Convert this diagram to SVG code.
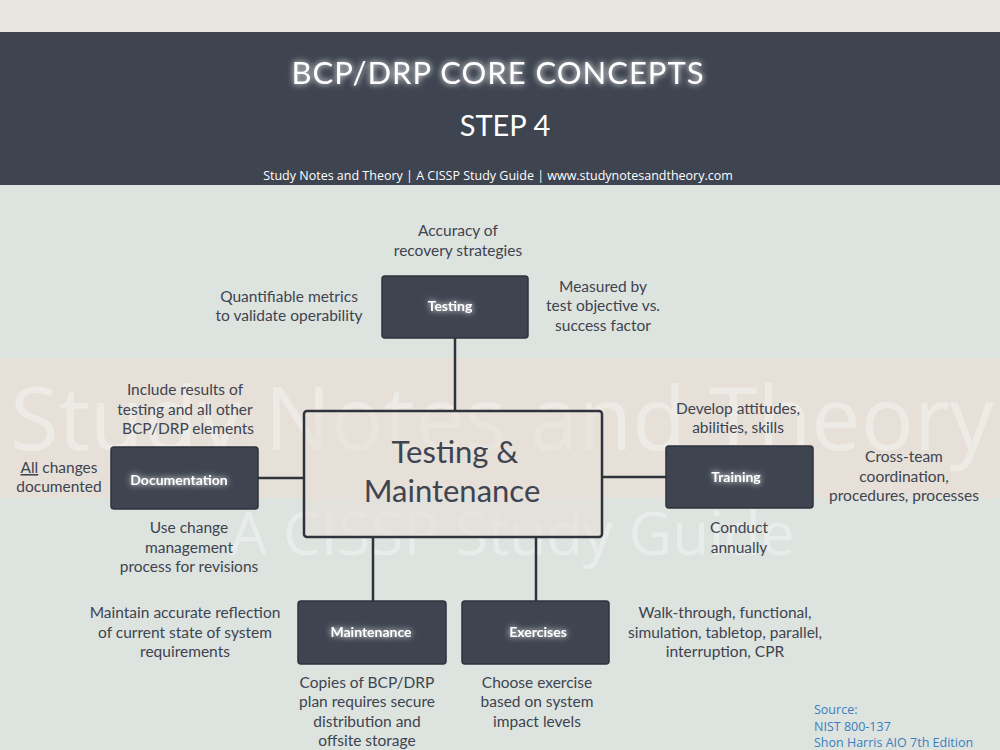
<svg xmlns="http://www.w3.org/2000/svg" width="1000" height="750" viewBox="0 0 1000 750">
<defs>
<style>
.t{font-family:"Lato","Liberation Sans",sans-serif;fill:#3e4450;font-size:15.5px;text-anchor:middle}
.big{font-size:31px}
.box{fill:#3e4450;stroke:#2e333c;stroke-width:1.5}
.bl{font-family:"Lato","Liberation Sans",sans-serif;fill:#fff;font-size:14px;font-weight:bold;text-anchor:middle}
.c{stroke:#2e333c;stroke-width:2.5;fill:none}
.wm{font-family:"Open Sans","Liberation Sans",sans-serif;fill:#ffffff;opacity:0.35;text-anchor:middle}
</style>
<filter id="glow" x="-20%" y="-50%" width="140%" height="200%"><feGaussianBlur stdDeviation="3" result="b"/><feMerge><feMergeNode in="b"/><feMergeNode in="SourceGraphic"/></feMerge></filter>
</defs>
<rect width="1000" height="750" fill="#dde3df"/>
<rect width="1000" height="32" fill="#e8e6df"/>
<rect y="358" width="1000" height="140" fill="#e6e0d8"/>
<text class="wm" x="502" y="450" style="font-size:88px">Study Notes and Theory</text>
<text class="wm" x="512" y="555" style="font-size:60px">A CISSP Study Guide</text>
<rect y="32" width="1000" height="153" fill="#3e4450"/>
<text x="498" y="84" font-family="Lato, 'Liberation Sans', sans-serif" font-size="31" fill="#fff" text-anchor="middle" filter="url(#glow)" letter-spacing="1">BCP/DRP CORE CONCEPTS</text>
<text x="505" y="136" font-family="Lato, 'Liberation Sans', sans-serif" font-size="29" fill="#fff" text-anchor="middle">STEP 4</text>
<text x="498" y="180" font-family="'Open Sans', 'Liberation Sans', sans-serif" font-size="12.5" fill="#fff" text-anchor="middle">Study Notes and Theory | A CISSP Study Guide | www.studynotesandtheory.com</text>
<g id="connectors">
<line class="c" x1="455" y1="338" x2="455" y2="411"/>
<line class="c" x1="258" y1="478" x2="304" y2="478"/>
<line class="c" x1="602" y1="477" x2="666" y2="477"/>
<line class="c" x1="373" y1="537" x2="373" y2="601"/>
<line class="c" x1="536" y1="537" x2="536" y2="601"/>
</g>
<g id="center">
<rect x="304" y="411" width="298" height="126" rx="3" fill="#e6e0d8" fill-opacity="0.6" stroke="#2e333c" stroke-width="2.5"/>
<text class="t big" x="455" y="463">Testing &amp;</text>
<text class="t big" x="452" y="502">Maintenance</text>
</g>
<g id="testing">
<rect class="box" x="382" y="276" width="146" height="62" rx="3"/>
<text class="bl" x="450" y="311" filter="url(#glow)">Testing</text>
<text class="t" x="458" y="236">Accuracy of</text>
<text class="t" x="458" y="256">recovery strategies</text>
<text class="t" x="289" y="302">Quantifiable metrics</text>
<text class="t" x="289" y="321">to validate operability</text>
<text class="t" x="603" y="292">Measured by</text>
<text class="t" x="603" y="311">test objective vs.</text>
<text class="t" x="603" y="331">success factor</text>
</g>
<g id="documentation">
<rect class="box" x="111" y="447" width="147" height="62" rx="3"/>
<text class="bl" x="179" y="485" filter="url(#glow)">Documentation</text>
<text class="t" x="185" y="395">Include results of</text>
<text class="t" x="185" y="415">testing and all other</text>
<text class="t" x="188" y="434">BCP/DRP elements</text>
<text class="t" x="59" y="473"><tspan text-decoration="underline">All</tspan> changes</text>
<text class="t" x="59" y="492">documented</text>
<text class="t" x="189" y="533">Use change</text>
<text class="t" x="189" y="553">management</text>
<text class="t" x="189" y="572">process for revisions</text>
</g>
<g id="training">
<rect class="box" x="666" y="446" width="147" height="62" rx="3"/>
<text class="bl" x="736" y="482" filter="url(#glow)">Training</text>
<text class="t" x="738" y="414">Develop attitudes,</text>
<text class="t" x="738" y="433">abilities, skills</text>
<text class="t" x="904" y="462">Cross-team</text>
<text class="t" x="904" y="482">coordination,</text>
<text class="t" x="904" y="501">procedures, processes</text>
<text class="t" x="739" y="533">Conduct</text>
<text class="t" x="739" y="553">annually</text>
</g>
<g id="maintenance">
<rect class="box" x="298" y="601" width="148" height="63" rx="3"/>
<text class="bl" x="371" y="637" filter="url(#glow)">Maintenance</text>
<text class="t" x="185" y="618">Maintain accurate reflection</text>
<text class="t" x="185" y="638">of current state of system</text>
<text class="t" x="185" y="657">requirements</text>
<text class="t" x="367" y="688">Copies of BCP/DRP</text>
<text class="t" x="367" y="707">plan requires secure</text>
<text class="t" x="367" y="727">distribution and</text>
<text class="t" x="367" y="746">offsite storage</text>
</g>
<g id="exercises">
<rect class="box" x="462" y="601" width="147" height="63" rx="3"/>
<text class="bl" x="538" y="637" filter="url(#glow)">Exercises</text>
<text class="t" x="725" y="618">Walk-through, functional,</text>
<text class="t" x="725" y="638">simulation, tabletop, parallel,</text>
<text class="t" x="725" y="657">interruption, CPR</text>
<text class="t" x="537" y="688">Choose exercise</text>
<text class="t" x="537" y="707">based on system</text>
<text class="t" x="537" y="727">impact levels</text>
</g>
<g id="source" font-family="'Open Sans','Liberation Sans',sans-serif" font-size="12.5" fill="#3a7fc0">
<text x="814" y="714">Source:</text>
<text x="814" y="731">NIST 800-137</text>
<text x="814" y="747">Shon Harris AIO 7th Edition</text>
</g>
</svg>
